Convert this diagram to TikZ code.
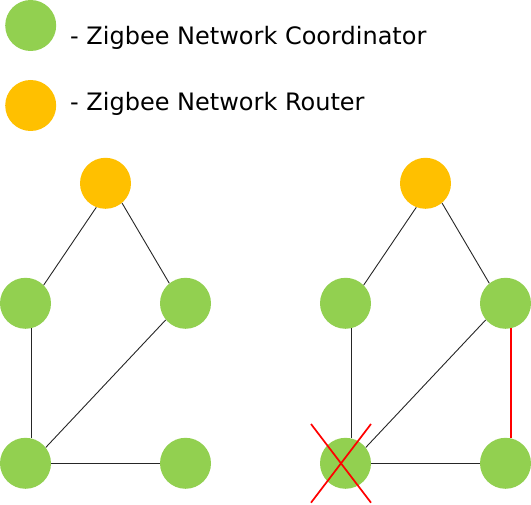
\documentclass[tikz,border=0pt]{standalone}
\usepackage{fontspec}
\setmainfont{DejaVu Sans}
\definecolor{zgreen}{HTML}{92D050}
\definecolor{zorange}{HTML}{FFC000}
\begin{document}
\begin{tikzpicture}[x=1pt,y=-1pt,
  dev/.style={circle,minimum size=51pt,inner sep=0pt,draw=none},
  coord/.style={dev,fill=zgreen},
  router/.style={dev,fill=zorange},
  link/.style={draw=black!85,line width=0.9pt},
  redlink/.style={draw=red,line width=1.7pt},
  legend/.style={anchor=base west,inner sep=0pt,font=\fontsize{24}{28}\selectfont}]
\useasboundingbox (0,0) rectangle (531,505);
% legend
\node[coord] (lg) at (30.7,25.5) {};
\node[router] (lo) at (30.7,105.5) {};
\node[legend] (lgt) at (70,44.3) {- Zigbee Network Coordinator};
\node[legend] (lot) at (70,111) {- Zigbee Network Router};
% left graph
\node[router] (ar) at (105.5,183.3) {};
\node[coord] (a1) at (25.5,303.3) {};
\node[coord] (a2) at (185.5,303.3) {};
\node[coord] (a3) at (25.5,463.3) {};
\node[coord] (a4) at (185.5,463.3) {};
\draw[link] (ar.-111.6) -- (a1.45);
\draw[link] (ar.-50) -- (a2.129);
\draw[link] (a1.-77.5) -- (a3.77.5);
\draw[link] (a2.-140) -- (a3.38);
\draw[link] (a3.east) -- (a4.west);
% right graph
\node[router] (br) at (425.5,183.3) {};
\node[coord] (b1) at (345.5,303.3) {};
\node[coord] (b2) at (505.5,303.3) {};
\node[coord] (b3) at (345.5,463.3) {};
\node[coord] (b4) at (505.5,463.3) {};
\draw[link] (br.-111.6) -- (b1.45);
\draw[link] (br.-50) -- (b2.129);
\draw[link] (b1.-77.5) -- (b3.77.5);
\draw[link] (b2.-140) -- (b3.38);
\draw[link] (b3.east) -- (b4.west);
\draw[redlink] (b2.-78) -- (b4.78);
% cross
\coordinate (x1) at (311,424);
\coordinate (x2) at (371,502.7);
\coordinate (x3) at (371,424);
\coordinate (x4) at (311,502.7);
\draw[redlink] (x1) -- (x2);
\draw[redlink] (x3) -- (x4);
\end{tikzpicture}
\end{document}
